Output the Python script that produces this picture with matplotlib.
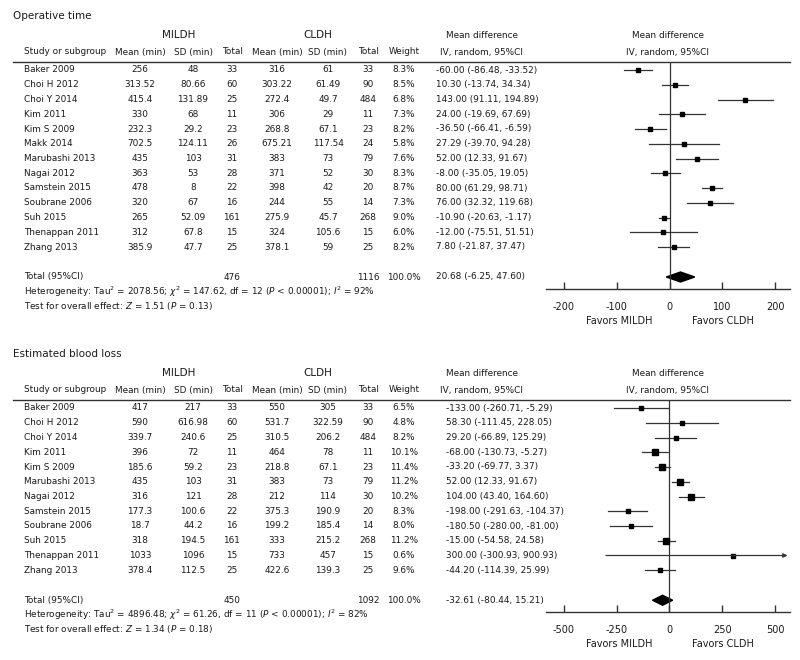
import numpy as np
import matplotlib
matplotlib.use('Agg')
import matplotlib.pyplot as plt

plt.rcParams['font.family'] = ['DejaVu Sans']
plt.rcParams['mathtext.fontset'] = 'dejavusans'

#Operative time
op_study = ['Baker 2009', 'Choi H 2012', 'Choi Y 2014', 'Kim 2011', 'Kim S 2009', 'Makk 2014',
            'Marubashi 2013', 'Nagai 2012', 'Samstein 2015', 'Soubrane 2006', 'Suh 2015',
            'Thenappan 2011', 'Zhang 2013']
op_m1 = [256, 313.52, 415.4, 330, 232.3, 702.5, 435, 363, 478, 320, 265, 312, 385.9]
op_sd1 = [48, 80.66, 131.89, 68, 29.2, 124.11, 103, 53, 8, 67, 52.09, 67.8, 47.7]
op_n1 = [33, 60, 25, 11, 23, 26, 31, 28, 22, 16, 161, 15, 25]
op_m2 = [316, 303.22, 272.4, 306, 268.8, 675.21, 383, 371, 398, 244, 275.9, 324, 378.1]
op_sd2 = [61, 61.49, 49.7, 29, 67.1, 117.54, 73, 52, 42, 55, 45.7, 105.6, 59]
op_n2 = [33, 90, 484, 11, 23, 24, 79, 30, 20, 14, 268, 15, 25]
op_w = [8.3, 8.5, 6.8, 7.3, 8.2, 5.8, 7.6, 8.3, 8.7, 7.3, 9.0, 6.0, 8.2]
op_md = [-60.00, 10.30, 143.00, 24.00, -36.50, 27.29, 52.00, -8.00, 80.00, 76.00, -10.90, -12.00, 7.80]
op_lo = [-86.48, -13.74, 91.11, -19.69, -66.41, -39.70, 12.33, -35.05, 61.29, 32.32, -20.63, -75.51, -21.87]
op_hi = [-33.52, 34.34, 194.89, 67.69, -6.59, 94.28, 91.67, 19.05, 98.71, 119.68, -1.17, 51.51, 37.47]
op_total = [476, 1116, 20.68, -6.25, 47.60]
op_het = r'Heterogeneity: Tau$^2$ = 2078.56; $\chi^2$ = 147.62, df = 12 ($P$ < 0.00001); $I^2$ = 92%'
op_test = r'Test for overall effect: $Z$ = 1.51 ($P$ = 0.13)'
op_ticks = [-200, -100, 0, 100, 200]

#Estimated blood loss
bl_study = ['Baker 2009', 'Choi H 2012', 'Choi Y 2014', 'Kim 2011', 'Kim S 2009', 'Marubashi 2013',
            'Nagai 2012', 'Samstein 2015', 'Soubrane 2006', 'Suh 2015', 'Thenappan 2011', 'Zhang 2013']
bl_m1 = [417, 590, 339.7, 396, 185.6, 435, 316, 177.3, 18.7, 318, 1033, 378.4]
bl_sd1 = [217, 616.98, 240.6, 72, 59.2, 103, 121, 100.6, 44.2, 194.5, 1096, 112.5]
bl_n1 = [33, 60, 25, 11, 23, 31, 28, 22, 16, 161, 15, 25]
bl_m2 = [550, 531.7, 310.5, 464, 218.8, 383, 212, 375.3, 199.2, 333, 733, 422.6]
bl_sd2 = [305, 322.59, 206.2, 78, 67.1, 73, 114, 190.9, 185.4, 215.2, 457, 139.3]
bl_n2 = [33, 90, 484, 11, 23, 79, 30, 20, 14, 268, 15, 25]
bl_w = [6.5, 4.8, 8.2, 10.1, 11.4, 11.2, 10.2, 8.3, 8.0, 11.2, 0.6, 9.6]
bl_md = [-133.00, 58.30, 29.20, -68.00, -33.20, 52.00, 104.00, -198.00, -180.50, -15.00, 300.00, -44.20]
bl_lo = [-260.71, -111.45, -66.89, -130.73, -69.77, 12.33, 43.40, -291.63, -280.00, -54.58, -300.93, -114.39]
bl_hi = [-5.29, 228.05, 125.29, -5.27, 3.37, 91.67, 164.60, -104.37, -81.00, 24.58, 900.93, 25.99]
bl_total = [450, 1092, -32.61, -80.44, 15.21]
bl_het = r'Heterogeneity: Tau$^2$ = 4896.48; $\chi^2$ = 61.26, df = 11 ($P$ < 0.00001); $I^2$ = 82%'
bl_test = r'Test for overall effect: $Z$ = 1.34 ($P$ = 0.18)'
bl_ticks = [-500, -250, 0, 250, 500]

W, H = 800, 660
fig = plt.figure(figsize=(8, 6.6), dpi=100)
bg = fig.add_axes([0, 0, 1, 1])
bg.set_xlim(0, W)
bg.set_ylim(H, 0)
bg.axis('off')

tc = '#1a1a1a'
fs = 6.4
fs_big = 7.5
cols = [140, 193, 232, 277, 328, 368, 404]   #column centres


def panel(y0, title, study, m1, sd1, n1, m2, sd2, n2, w, md, lo, hi, total, het, test,
          ticks, xlim, ci_x):
    #headers
    bg.text(13, y0, title, fontsize=fs_big, color=tc, va='center')
    bg.text(179, y0 + 19, 'MILDH', fontsize=fs_big, color=tc, va='center', ha='center')
    bg.text(318, y0 + 19, 'CLDH', fontsize=fs_big, color=tc, va='center', ha='center')
    bg.text(482, y0 + 19, 'Mean difference', fontsize=fs, color=tc, va='center', ha='center')
    bg.text(668, y0 + 19, 'Mean difference', fontsize=fs, color=tc, va='center', ha='center')
    hy = y0 + 36
    bg.text(24, hy, 'Study or subgroup', fontsize=fs, color=tc, va='center')
    for x, s in zip(cols, ['Mean (min)', 'SD (min)', 'Total', 'Mean (min)', 'SD (min)', 'Total', 'Weight']):
        bg.text(x, hy, s, fontsize=fs, color=tc, va='center', ha='center')
    bg.text(482, hy, 'IV, random, 95%CI', fontsize=fs, color=tc, va='center', ha='center')
    bg.text(668, hy, 'IV, random, 95%CI', fontsize=fs, color=tc, va='center', ha='center')
    ly = y0 + 46
    bg.plot([13, 790], [ly, ly], color='#333333', lw=1.0)

    rows = y0 + 54 + 14.75 * np.arange(len(study))
    for i, y in enumerate(rows):
        bg.text(24, y, study[i], fontsize=fs, color=tc, va='center')
        vals = ['%g' % m1[i], '%g' % sd1[i], '%d' % n1[i], '%g' % m2[i], '%g' % sd2[i], '%d' % n2[i],
                '%.1f%%' % w[i]]
        for x, s in zip(cols, vals):
            bg.text(x, y, s, fontsize=fs, color=tc, va='center', ha='center')
        bg.text(ci_x, y, '%.2f (%.2f, %.2f)' % (md[i], lo[i], hi[i]), fontsize=fs, color=tc, va='center')

    ty = rows[-1] + 30
    bg.text(24, ty, 'Total (95%CI)', fontsize=fs, color=tc, va='center')
    bg.text(cols[2], ty, '%d' % total[0], fontsize=fs, color=tc, va='center', ha='center')
    bg.text(cols[5], ty, '%d' % total[1], fontsize=fs, color=tc, va='center', ha='center')
    bg.text(cols[6], ty, '100.0%', fontsize=fs, color=tc, va='center', ha='center')
    bg.text(ci_x, ty, '%.2f (%.2f, %.2f)' % (total[2], total[3], total[4]), fontsize=fs, color=tc, va='center')
    bg.text(24, ty + 14.5, het, fontsize=fs, color=tc, va='center')
    bg.text(24, ty + 29, test, fontsize=fs, color=tc, va='center')

    #forest part
    axy = ty + 12
    ax = fig.add_axes([546 / W, 1 - axy / H, 244 / W, (axy - ly) / H])
    ax.set_xlim(xlim)
    ax.set_ylim(axy, ly)
    ax.patch.set_alpha(0)
    for s in ['top', 'left', 'right']:
        ax.spines[s].set_visible(False)
    ax.spines['bottom'].set_color('#333333')
    ax.spines['bottom'].set_linewidth(1.0)
    ax.set_yticks([])
    ax.set_xticks(ticks)
    ax.set_xticklabels([str(t) for t in ticks])
    ax.tick_params(axis='x', direction='in', length=5, width=1.0, color='#333333', pad=9,
                   labelsize=fs + 0.6, labelcolor=tc)
    ax.axvline(0, color='#333333', lw=0.9)
    for i, y in enumerate(rows):
        a, b = max(lo[i], xlim[0]), min(hi[i], xlim[1])
        if hi[i] > xlim[1]:
            ax.annotate('', xy=(xlim[1] - (xlim[1] - xlim[0]) * 0.01, y), xytext=(a, y),
                        arrowprops=dict(arrowstyle='-|>', color='#333333', lw=0.9,
                                        mutation_scale=6, shrinkA=0, shrinkB=0))
        else:
            ax.plot([a, b], [y, y], color='#333333', lw=0.9)
        ax.plot(md[i], y, 's', color='black', ms=2.6 + 0.1 * w[i])
    ax.fill([total[3], total[2], total[4], total[2]], [ty, ty - 5, ty, ty + 5], color='black')

    fy = axy + 32
    bg.text(619, fy, 'Favors MILDH', fontsize=fs + 0.6, color=tc, va='center', ha='center')
    bg.text(723, fy, 'Favors CLDH', fontsize=fs + 0.6, color=tc, va='center', ha='center')


panel(16, 'Operative time', op_study, op_m1, op_sd1, op_n1, op_m2, op_sd2, op_n2, op_w,
      op_md, op_lo, op_hi, op_total, op_het, op_test, op_ticks, (-234, 228), 436)
panel(354, 'Estimated blood loss', bl_study, bl_m1, bl_sd1, bl_n1, bl_m2, bl_sd2, bl_n2, bl_w,
      bl_md, bl_lo, bl_hi, bl_total, bl_het, bl_test, bl_ticks, (-585, 571), 446)

plt.savefig('out.png', dpi=100)
